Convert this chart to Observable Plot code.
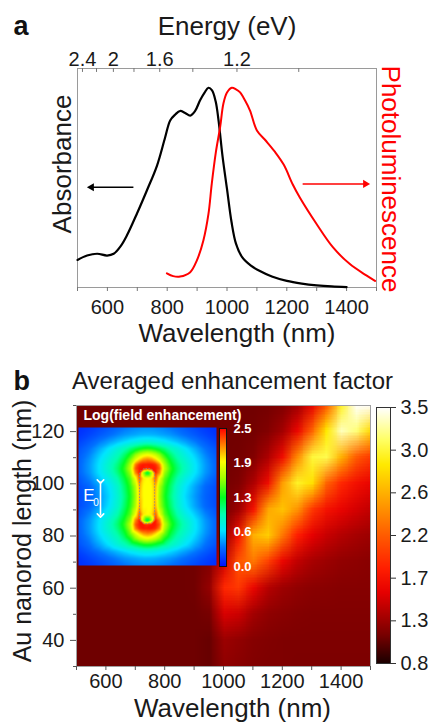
<!DOCTYPE html>
<html>
<head>
<meta charset="utf-8">
<script src="https://cdn.jsdelivr.net/npm/d3@7"></script>
<script src="https://cdn.jsdelivr.net/npm/@observablehq/plot@0.6"></script>
<style>
html,body{margin:0;padding:0;background:#fff;}
#root{position:relative;width:433px;height:722px;overflow:hidden;background:#fff;}
#root > div{position:absolute;}
#root svg{display:block;overflow:visible;}
</style>
</head>
<body>
<div id="root"></div>
<script>
// ---------- Panel a data ----------
const absWavelength = [500, 532, 566, 599, 621, 645, 665, 699, 732, 766, 793, 810, 827, 843, 860, 877, 893, 910, 925, 938, 950, 962, 972, 985, 1000, 1015, 1030, 1050, 1080, 1110, 1150, 1200, 1250, 1300, 1350, 1400];
const absorbance    = [0.126, 0.146, 0.154, 0.146, 0.154, 0.19, 0.237, 0.338, 0.443, 0.557, 0.685, 0.763, 0.79, 0.806, 0.797, 0.785, 0.805, 0.855, 0.89, 0.912, 0.9, 0.85, 0.76, 0.6, 0.45, 0.3, 0.2, 0.14, 0.1, 0.075, 0.05, 0.03, 0.018, 0.01, 0.005, 0.002];
const plWavelength = [799, 820, 843, 877, 899, 921, 938, 949, 963, 977, 988, 1000, 1016, 1030, 1043, 1060, 1077, 1100, 1130, 1160, 1190, 1220, 1243, 1299, 1354, 1410, 1466, 1495];
const photoluminescence = [0.065, 0.052, 0.05, 0.07, 0.123, 0.215, 0.336, 0.473, 0.62, 0.732, 0.84, 0.89, 0.912, 0.905, 0.892, 0.855, 0.808, 0.717, 0.67, 0.62, 0.56, 0.47, 0.412, 0.291, 0.184, 0.108, 0.055, 0.03];
const wlTicks = [500, 600, 700, 800, 900, 1000, 1100, 1200, 1300, 1400, 1500];
const wlLabelled = [600, 800, 1000, 1200, 1400];
const energyMajor = [2.4, 2, 1.6, 1.2];
const energyMinor = [2.2, 1.8, 1.4, 1.0];
const arrowFrom = [687, 1253];
const arrowTo = [547, 1463];
const arrowLevel = [0.458, 0.473];
const arrowColor = ["black", "red"];

// ---------- Panel b data (rows: nanorod length, columns: wavelength) ----------
const wlGrid = [500, 550, 600, 650, 700, 750, 800, 850, 900, 950, 1000, 1050, 1100, 1150, 1200, 1250, 1300, 1350, 1400, 1450, 1500];
const lengthGrid = [30, 40, 50, 60, 70, 80, 90, 100, 110, 120, 130];
const enhL30  = [1.07,1.07,1.07,1.07,1.07,1.07,1.07,1.07,1.07,1.05,1.20,1.17,1.14,1.13,1.13,1.12,1.12,1.12,1.12,1.12,1.12];
const enhL40  = [1.07,1.07,1.07,1.07,1.07,1.07,1.07,1.07,1.07,1.05,1.25,1.21,1.16,1.14,1.13,1.13,1.13,1.13,1.13,1.13,1.13];
const enhL50  = [1.07,1.07,1.07,1.07,1.07,1.07,1.07,1.07,1.07,1.10,1.50,1.45,1.28,1.20,1.17,1.15,1.14,1.14,1.14,1.14,1.14];
const enhL60  = [1.07,1.07,1.07,1.07,1.07,1.07,1.07,1.07,1.08,1.22,1.85,1.95,1.60,1.36,1.26,1.21,1.18,1.17,1.16,1.16,1.16];
const enhL70  = [1.07,1.07,1.07,1.07,1.07,1.07,1.07,1.07,1.08,1.14,1.45,2.10,2.30,2.00,1.60,1.40,1.30,1.25,1.21,1.19,1.17];
const enhL80  = [1.08,1.08,1.08,1.08,1.08,1.08,1.08,1.08,1.08,1.09,1.20,1.70,2.60,2.75,2.30,1.80,1.55,1.43,1.35,1.29,1.25];
const enhL90  = [1.08,1.08,1.08,1.08,1.08,1.08,1.08,1.08,1.08,1.08,1.10,1.25,1.70,2.55,2.70,2.45,1.95,1.70,1.58,1.48,1.40];
const enhL100 = [1.08,1.08,1.08,1.08,1.08,1.08,1.08,1.08,1.08,1.08,1.09,1.13,1.32,1.65,2.50,3.00,2.85,2.20,1.85,1.68,1.58];
const enhL110 = [1.08,1.08,1.08,1.08,1.08,1.08,1.08,1.08,1.08,1.08,1.08,1.09,1.14,1.32,1.65,2.40,3.05,3.10,2.60,2.15,1.95];
const enhL120 = [1.08,1.08,1.08,1.08,1.08,1.08,1.08,1.08,1.08,1.08,1.08,1.08,1.09,1.14,1.28,1.60,2.20,2.90,3.35,3.20,2.80];
const enhL130 = [1.08,1.08,1.08,1.08,1.08,1.08,1.08,1.08,1.08,1.08,1.08,1.08,1.08,1.09,1.13,1.25,1.55,2.10,3.00,3.50,3.50];
const lengthMajor = [40, 60, 80, 100, 120];
const lengthMinor = [30, 50, 70, 90, 110, 130];
const heatStops  = [0.8, 1.1, 1.3, 1.55, 1.8, 2.2, 2.6, 2.9, 3.15, 3.5];
const heatColors = ["#1a0000", "#780000", "#a80000", "#e60000", "#ff1e00", "#ff6400", "#ffb000", "#ffea00", "#ffff60", "#ffffff"];
const cbTickValues = [0.8, 1.25, 1.7, 2.15, 2.6, 3.05, 3.5];
const cbTickLabels = ["0.8", "1.3", "1.7", "2.2", "2.6", "3.0", "3.5"];

// ---------- Inset: log(field enhancement), one quadrant (mirrored) ----------
const fieldX = [0, 4, 8, 12, 17, 23, 30, 38, 48, 58, 69];
const fieldY = [0, 10, 18, 24, 28, 32, 37, 42, 48, 55, 62, 69];
const fieldQuadrant = [
  [1.90, 1.90, 2.05, 1.60, 1.30, 1.05, 0.82, 0.62, 0.45, 0.30, 0.21],
  [1.90, 1.90, 2.10, 1.65, 1.35, 1.10, 0.85, 0.66, 0.48, 0.32, 0.22],
  [1.90, 1.95, 2.30, 1.85, 1.45, 1.20, 0.95, 0.76, 0.58, 0.40, 0.26],
  [1.10, 1.60, 2.45, 2.20, 1.60, 1.30, 1.05, 0.85, 0.65, 0.45, 0.30],
  [2.40, 2.45, 2.45, 2.30, 1.70, 1.35, 1.08, 0.88, 0.66, 0.46, 0.30],
  [2.45, 2.45, 2.40, 2.20, 1.65, 1.30, 1.05, 0.87, 0.66, 0.46, 0.30],
  [2.20, 2.15, 2.00, 1.80, 1.50, 1.20, 0.98, 0.82, 0.63, 0.44, 0.29],
  [1.85, 1.80, 1.70, 1.55, 1.30, 1.08, 0.90, 0.75, 0.58, 0.40, 0.27],
  [1.30, 1.28, 1.22, 1.15, 1.05, 0.92, 0.80, 0.66, 0.50, 0.35, 0.24],
  [0.78, 0.77, 0.75, 0.72, 0.68, 0.62, 0.55, 0.47, 0.37, 0.27, 0.18],
  [0.52, 0.52, 0.51, 0.49, 0.47, 0.44, 0.39, 0.33, 0.26, 0.19, 0.13],
  [0.42, 0.42, 0.41, 0.40, 0.38, 0.35, 0.31, 0.26, 0.20, 0.15, 0.11]
];
const rodHalfWidth = 7.5, rodHalfLength = 27.5;
const fieldStops  = [0, 0.35, 0.65, 0.95, 1.25, 1.6, 1.9, 2.2, 2.5];
const fieldColors = ["#0010ff", "#0070ff", "#00e5ff", "#00ffb0", "#00ff20", "#a0ff00", "#ffff00", "#ff8000", "#ff0000"];
const fieldTickValues = [0, 0.625, 1.25, 1.875, 2.5];
const fieldTickLabels = ["0.0", "0.6", "1.3", "1.9", "2.5"];

// ---------- helpers ----------
const FONT = '"Liberation Sans", Arial, Helvetica, sans-serif';
const root = document.getElementById("root");
function place(node, left, top) {
  const d = document.createElement("div");
  d.style.left = left + "px"; d.style.top = top + "px";
  d.appendChild(node); root.appendChild(d);
}
const baseStyle = {fontFamily: FONT, background: "transparent", overflow: "visible", color: "#1a1a1a"};
const T = {fill: "#1a1a1a", lineAnchor: "middle", textAnchor: "middle"};

// ---------- Panel a ----------
const absData = absWavelength.map((x, i) => ({x, y: absorbance[i]}));
const plData = plWavelength.map((x, i) => ({x, y: photoluminescence[i]}));
const energyTicks = [...energyMajor, ...energyMinor];
const arrows = arrowFrom.map((f, i) => ({from: f, to: arrowTo[i], y: arrowLevel[i], color: arrowColor[i]}));

const panelA = Plot.plot({
  width: 433, height: 345, marginTop: 68, marginRight: 57, marginBottom: 58, marginLeft: 77,
  style: baseStyle,
  x: {domain: [500, 1500]},
  y: {domain: [0, 1], axis: null},
  marks: [
    Plot.frame({stroke: "#9a9a9a"}),
    Plot.axisX(wlTicks, {anchor: "bottom", tickSize: 4, tickPadding: 8, fontSize: 20, stroke: "#777", fill: "#1a1a1a", label: null,
      tickFormat: d => wlLabelled.includes(d) ? String(d) : ""}),
    Plot.ruleX(energyTicks, {x: e => 1240 / e, y1: 1, y2: 0.982, stroke: "#777"}),
    Plot.text(energyMajor, {...T, x: e => 1240 / e, frameAnchor: "top", dy: -9, text: e => String(e), fontSize: 20}),
    Plot.line(absData, {x: "x", y: "y", stroke: "black", strokeWidth: 2.2, curve: "catmull-rom"}),
    Plot.line(plData, {x: "x", y: "y", stroke: "red", strokeWidth: 2, curve: "catmull-rom"}),
    ...arrows.flatMap(a => [
      Plot.link([a], {x1: "from", x2: "to", y1: "y", y2: "y", stroke: a.color, strokeWidth: 1.5}),
      Plot.dot([a], {x: "to", y: "y", symbol: "triangle", r: 3, fill: a.color, stroke: null, rotate: a.to < a.from ? -90 : 90})
    ]),
    Plot.text(["Energy (eV)"], {...T, frameAnchor: "top", dy: -42, fontSize: 26}),
    Plot.text(["Wavelength (nm)"], {...T, frameAnchor: "bottom", dx: 10, dy: 46, fontSize: 26}),
    Plot.text(["Absorbance"], {...T, frameAnchor: "left", dx: -15, dy: -14, rotate: -90, fontSize: 26}),
    Plot.text(["Photoluminescence"], {...T, frameAnchor: "right", dx: 14, dy: 1, rotate: 90, fontSize: 26, fill: "red"}),
    Plot.text(["a"], {...T, frameAnchor: "top-left", dx: -64, dy: -42, textAnchor: "start", fontWeight: "bold", fontSize: 27, fill: "#111"})
  ]
});
place(panelA, 0, 0);

// ---------- Panel b heatmap ----------
// dense grid: first row = shortest nanorod; cells centred on the grid values
const enhancementRows = [enhL30, enhL40, enhL50, enhL60, enhL70, enhL80, enhL90, enhL100, enhL110, enhL120, enhL130];
const heatValues = enhancementRows.flat();
const halfW = (wlGrid[1] - wlGrid[0]) / 2, halfL = (lengthGrid[1] - lengthGrid[0]) / 2;
const heatColor = {type: "linear", domain: heatStops, range: heatColors, interpolate: "rgb"};

const panelB = Plot.plot({
  width: 433, height: 362, marginTop: 45, marginRight: 63, marginBottom: 56, marginLeft: 76,
  style: baseStyle,
  x: {domain: [500, 1500]},
  y: {domain: [30, 130]},
  color: heatColor,
  marks: [
    Plot.raster(heatValues, {
      width: wlGrid.length, height: lengthGrid.length, fill: d => d,
      x1: wlGrid[0] - halfW, x2: wlGrid[wlGrid.length - 1] + halfW,
      y1: lengthGrid[0] - halfL, y2: lengthGrid[lengthGrid.length - 1] + halfL,
      clip: true
    }),
    Plot.frame({stroke: "#a0a0a0"}),
    Plot.axisX(wlTicks, {anchor: "bottom", tickSize: 4, tickPadding: 3, fontSize: 20, stroke: "#555", fill: "#1a1a1a", label: null,
      tickFormat: d => wlLabelled.includes(d) ? String(d) : ""}),
    Plot.axisY(lengthMajor, {anchor: "left", tickSize: 6, tickPadding: 6, fontSize: 20, stroke: "#555", fill: "#1a1a1a", label: null}),
    Plot.axisY(lengthMinor, {anchor: "left", tickSize: 3, stroke: "#555", label: null, tickFormat: () => ""}),
    Plot.text(["Averaged enhancement factor"], {...T, frameAnchor: "top", dx: 9, dy: -24, fontSize: 24}),
    Plot.text(["b"], {...T, frameAnchor: "top-left", dx: -63, dy: -24, textAnchor: "start", fontWeight: "bold", fontSize: 27, fill: "#111"}),
    Plot.text(["Wavelength (nm)"], {...T, frameAnchor: "bottom", dx: 9, dy: 42, fontSize: 26}),
    Plot.text(["Au nanorod length (nm)"], {...T, frameAnchor: "left", dx: -54, dy: -5, rotate: -90, fontSize: 25})
  ]
});
place(panelB, 0, 360);

// ---------- Panel b colour bar ----------
const colorBar = Plot.plot({
  width: 63, height: 362, marginTop: 47, marginRight: 43, marginBottom: 59, marginLeft: 6,
  style: baseStyle,
  x: {domain: [0, 1], axis: null},
  y: {domain: [0.8, 3.5]},
  color: heatColor,
  marks: [
    Plot.raster({fill: (x, y) => y, x1: 0, x2: 1, y1: 0.8, y2: 3.5, pixelSize: 1}),
    Plot.frame({stroke: "#333"}),
    Plot.axisY(cbTickValues, {anchor: "right", tickSize: 5, tickPadding: 5, fontSize: 20, stroke: "#333", fill: "#1a1a1a", label: null,
      tickFormat: d => cbTickLabels[cbTickValues.indexOf(d)]})
  ]
});
place(colorBar, 370, 360);

// ---------- Inset field map ----------
const fullX = [...fieldX.slice(1).map(d => -d).reverse(), ...fieldX];
const fullY = [...fieldY.slice(1).map(d => -d).reverse(), ...fieldY];
const fieldPoints = fullY.flatMap(y => fullX.map(x => ({x, y, v: fieldQuadrant[fieldY.indexOf(Math.abs(y))][fieldX.indexOf(Math.abs(x))]})));
const fieldColor = {type: "linear", domain: fieldStops, range: fieldColors, interpolate: "rgb"};
const rod = [{x1: -rodHalfWidth, x2: rodHalfWidth, y1: -rodHalfLength, y2: rodHalfLength}];
const eField = [{x: -47, y1: 15, y2: -19}];

const inset = Plot.plot({
  width: 175, height: 170, marginTop: 27, marginRight: 35, marginBottom: 5, marginLeft: 2,
  style: baseStyle,
  x: {domain: [-69, 69], axis: null},
  y: {domain: [-69, 69], axis: null},
  color: fieldColor,
  marks: [
    Plot.raster(fieldPoints, {x: "x", y: "y", fill: "v", interpolate: "barycentric", x1: -69, x2: 69, y1: -69, y2: 69, pixelSize: 1}),
    Plot.rect(rod, {x1: "x1", x2: "x2", y1: "y1", y2: "y2", fill: "none", stroke: "#8a8a8a", strokeOpacity: 0.8, strokeDasharray: "1.5,1.5", rx: 6}),
    Plot.link(eField, {x1: "x", x2: "x", y1: "y1", y2: "y2", stroke: "white", strokeWidth: 1.6, markerStart: "arrow", markerEnd: "arrow"}),
    Plot.text(["E"], {x: -58.5, y: 0.5, fontSize: 17, fill: "white"}),
    Plot.text(["0"], {x: -51.5, y: -6, fontSize: 10, fill: "white"}),
    Plot.text(["Log(field enhancement)"], {frameAnchor: "top-left", dx: 5, dy: -12, textAnchor: "start", lineAnchor: "middle", fill: "white", fontWeight: "bold", fontSize: 14})
  ]
});
place(inset, 76, 400);

const insetBar = Plot.plot({
  width: 40, height: 170, marginTop: 28, marginRight: 33, marginBottom: 4, marginLeft: 0,
  style: baseStyle,
  x: {domain: [0, 1], axis: null},
  y: {domain: [0, 2.5]},
  color: fieldColor,
  marks: [
    Plot.raster({fill: (x, y) => y, x1: 0, x2: 1, y1: 0, y2: 2.5, pixelSize: 1}),
    Plot.frame({stroke: "#111"}),
    Plot.axisY(fieldTickValues, {anchor: "right", tickSize: 0, tickPadding: 7, fontSize: 13, fontWeight: "bold", fill: "white", label: null,
      tickFormat: d => fieldTickLabels[fieldTickValues.indexOf(d)]})
  ]
});
place(insetBar, 219, 400);
</script>
</body>
</html>
